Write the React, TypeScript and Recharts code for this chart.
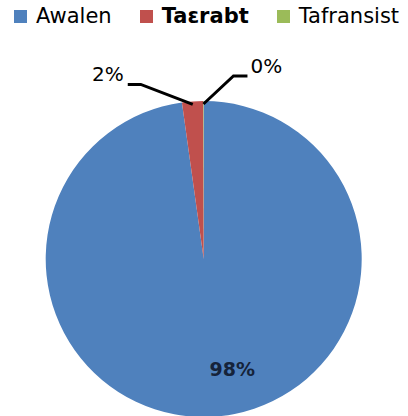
import React from "react";
import { PieChart, Pie, Cell, Legend } from "recharts";

const names = ["Awalen", "Taɛrabt", "Tafransist"];
const values = [97.8, 2.15, 0.05];
const labels = ["98%", "2%", "0%"];
const COLORS = ["#4F81BD", "#C0504D", "#9BBB59"];

const data = names.map((name, i) => ({ name, value: values[i], label: labels[i] }));

const RAD = Math.PI / 180;

const renderLabel = (props: any) => {
  const { cx, cy, midAngle, outerRadius, index } = props;
  const cos = Math.cos(-midAngle * RAD);
  const sin = Math.sin(-midAngle * RAD);
  if (index === 0) {
    const r = outerRadius * 0.7;
    return (
      <text x={cx + r * cos + 21} y={cy + r * sin} textAnchor="middle" dominantBaseline="central"
        fill="#15233a" fontSize={19} fontWeight="bold" fontFamily="'DejaVu Sans', sans-serif">
        {labels[index]}
      </text>
    );
  }
  const sx = cx + (outerRadius - 3) * cos;
  const sy = cy + (outerRadius - 3) * sin;
  const left = index === 1;
  const ex = left ? sx - 52 : sx + 30;
  const ey = left ? sy - 20 : sy - 28;
  const hx = left ? ex - 13 : ex + 14;
  return (
    <g>
      <polyline points={`${sx},${sy} ${ex},${ey} ${hx},${ey}`} fill="none" stroke="#000" strokeWidth={3} />
      <text x={left ? hx - 4 : hx + 3} y={ey - 3} textAnchor={left ? "end" : "start"} fill="#000"
        fontSize={20} fontFamily="'DejaVu Sans', sans-serif">
        {labels[index]}
      </text>
    </g>
  );
};

const renderLegend = () => (
  <div style={{ display: "flex", alignItems: "center", paddingLeft: 14, fontFamily: "'DejaVu Sans', sans-serif", fontSize: 21 }}>
    {names.map((n, i) => (
      <div key={n} style={{ display: "flex", alignItems: "center", marginRight: 28 }}>
        <span style={{ display: "inline-block", width: 13, height: 13, background: COLORS[i], marginRight: 9 }} />
        <span style={{ color: "#000", fontWeight: i === 1 ? "bold" : "normal" }}>{n}</span>
      </div>
    ))}
  </div>
);

export default function App() {
  return (
    <div style={{ position: "absolute", left: 0, top: 0, width: 408, height: 416, background: "#fff", overflow: "hidden" }}>
      <PieChart width={408} height={416} margin={{ top: 0, right: 0, bottom: 0, left: 0 }}>
        <Legend verticalAlign="top" content={renderLegend} wrapperStyle={{ top: 4, left: 0 }} />
        <Pie
          data={data}
          dataKey="value"
          cx={203.7}
          cy={235}
          outerRadius={158}
          startAngle={90}
          endAngle={-270}
          stroke="none"
          label={renderLabel}
          labelLine={false}
          isAnimationActive={false}
        >
          {data.map((d, i) => (
            <Cell key={d.name} fill={COLORS[i]} />
          ))}
        </Pie>
      </PieChart>
    </div>
  );
}
